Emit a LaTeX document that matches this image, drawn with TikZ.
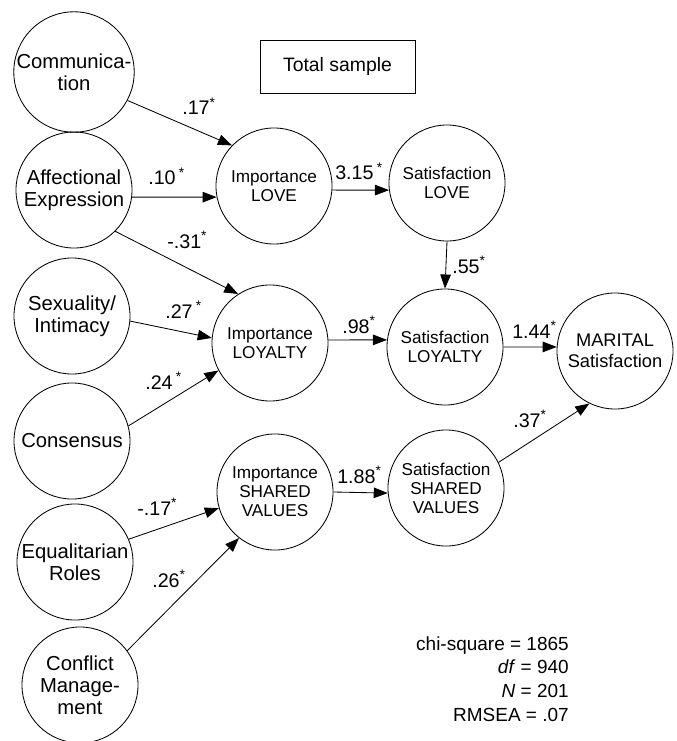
\documentclass[tikz,border=0pt]{standalone}
\usepackage{fontspec}
\setmainfont{Liberation Sans}
\usetikzlibrary{arrows.meta}
\newcommand{\sig}{\textsuperscript{*}}
\begin{document}
\begin{tikzpicture}[x=0.025cm,y=-0.025cm,
  outer/.style={circle,draw,line width=0.6pt,minimum size=2.9cm,inner sep=0pt,align=center,font=\fontsize{14.4}{15.8}\selectfont},
  inner/.style={circle,draw,line width=0.6pt,minimum size=2.9cm,inner sep=0pt,align=center,font=\fontsize{12.2}{13.6}\selectfont},
  coef/.style={inner sep=0pt,anchor=base west,font=\fontsize{14}{16}\selectfont},
  arr/.style={line width=0.6pt,-{Triangle[length=10pt,width=7.5pt]}}]
\useasboundingbox (0,0) rectangle (676,741);

\node[draw,line width=0.6pt,minimum width=3.875cm,minimum height=1.325cm,font=\fontsize{13.8}{16}\selectfont] (title) at (337.5,66.5) {Total sample};

% predictors
\node[outer] (comm) at (74,72) {Communica-\\tion};
\node[outer] (affect) at (74,190) {Affectional\\Expression};
\node[outer] (sex) at (72,316) {Sexuality/\\Intimacy};
\node[outer] (cons) at (72,441) {Consensus};
\node[outer] (equal) at (75,562) {Equalitarian\\Roles};
\node[outer] (conflict) at (80,685) {Conflict\\Manage-\\ment};

% importance and satisfaction
\node[inner] (implove) at (274,186) {Importance\\LOVE};
\node[inner] (imployal) at (270,343) {Importance\\LOYALTY};
\node[inner] (impshared) at (275,492) {Importance\\SHARED\\VALUES};
\node[inner] (satlove) at (447,183) {Satisfaction\\LOVE};
\node[inner] (satloyal) at (445,347) {Satisfaction\\LOYALTY};
\node[inner] (satshared) at (446,488) {Satisfaction\\SHARED\\VALUES};
\node[inner,font=\fontsize{13}{15}\selectfont] (marital) at (615,351) {MARITAL\\Satisfaction};

% paths
\draw[arr] (comm.-28) -- (implove.136);
\draw[arr] (affect.-7) -- (implove.191);
\draw[arr] (affect.-45) -- (imployal.123);
\draw[arr] (sex.-5) -- (imployal.175);
\draw[arr] (cons.15) -- (imployal.208);
\draw[arr] (equal.23) -- (impshared.196);
\draw[arr] (conflict.36) -- (impshared.232);
\draw[arr] (implove.-4) -- (satlove.187);
\draw[arr] (imployal.3) -- (satloyal.173);
\draw[arr] (impshared.0) -- (satshared.185);
\draw[arr] (satlove.south) -- (satloyal.north);
\draw[arr] (satloyal.0) -- (marital.176);
\draw[arr] (satshared.26) -- (marital.244);

% coefficients
\node[coef] (c1) at (182,115) {.17\sig};
\node[coef] (c2) at (148,185) {.10\,\sig};
\node[coef] (c3) at (167,248) {-.31\sig};
\node[coef] (c4) at (165,318) {.27\,\sig};
\node[coef] (c5) at (145,389) {.24\,\sig};
\node[coef] (c6) at (137,515) {-.17\sig};
\node[coef] (c7) at (152,587) {.26\sig};
\node[coef] (c8) at (335,180) {3.15\,\sig};
\node[coef] (c9) at (452,273) {.55\sig};
\node[coef] (c10) at (342,333) {.98\sig};
\node[coef] (c11) at (512,338) {1.44\sig};
\node[coef] (c12) at (513,427) {.37\sig};
\node[coef] (c13) at (337,483) {1.88\sig};

\node[anchor=north east,align=right,inner sep=0pt,font=\fontsize{13.5}{17}\selectfont] (fit) at (569,636)
  {chi-square = 1865\\\textit{df} = 940\\\textit{N} = 201\\RMSEA = .07};
\end{tikzpicture}
\end{document}
